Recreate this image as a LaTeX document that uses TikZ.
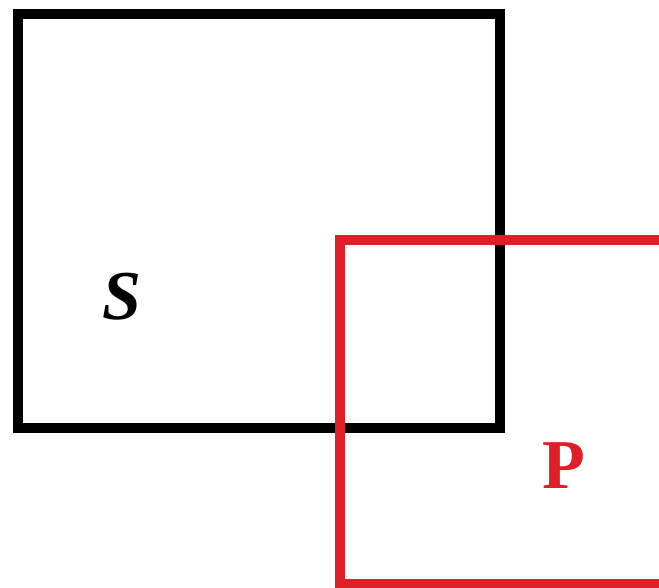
\documentclass[tikz,border=0pt]{standalone}
\usepackage{fontspec}
\setmainfont{Liberation Serif}
\definecolor{boxred}{RGB}{224,30,40}
\tikzset{
  frame/.style={line width=10pt, line join=miter},
  lbl/.style={inner sep=0pt, font=\fontsize{70}{70}\selectfont\bfseries}
}
\begin{document}
\begin{tikzpicture}[x=1pt,y=-1pt]
\useasboundingbox (0,0) rectangle (659,588);
\begin{scope}
\clip (0,0) rectangle (659,588);
\draw[frame, black] (18,14) rectangle (500,428);
\draw[frame, boxred] (680,240) -- (340,240) -- (340,584) -- (680,584);
\end{scope}
\node[lbl, text=black, font=\fontsize{70}{70}\selectfont\bfseries\itshape] (s) at (122,297) {S};
\node[lbl, text=boxred] (p) at (564,466) {P};
\end{tikzpicture}
\end{document}
